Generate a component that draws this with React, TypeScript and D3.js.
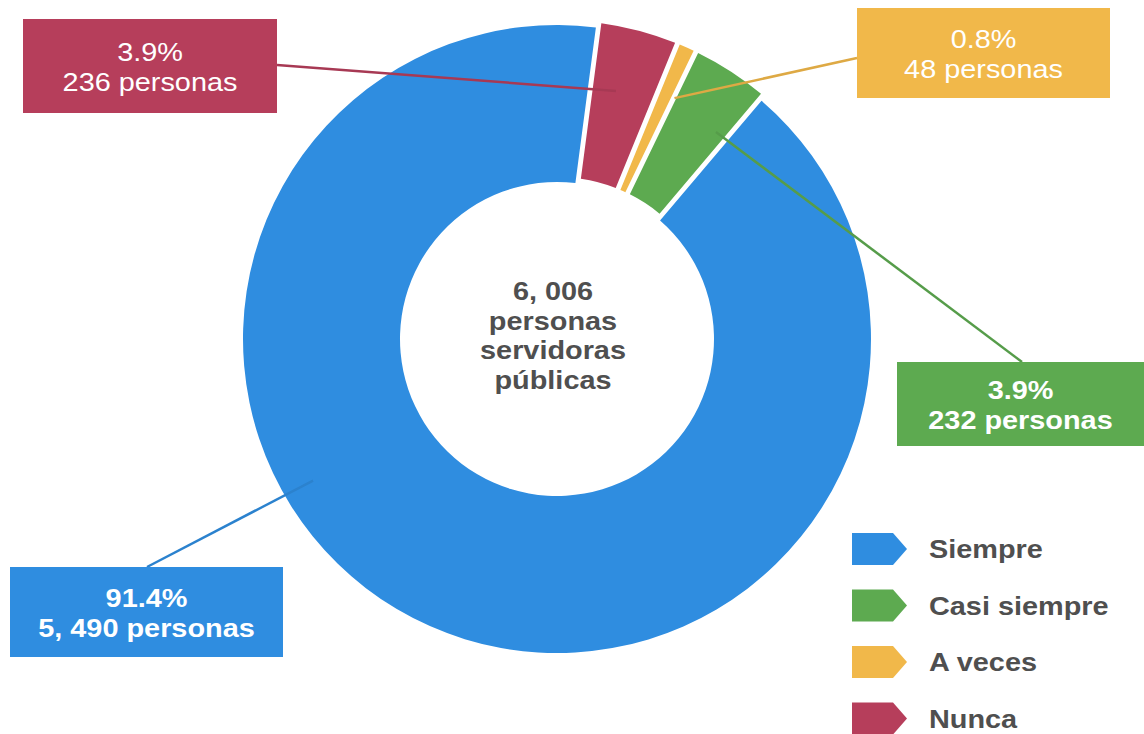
import React from "react";
import * as d3 from "d3";

// ---- Data ----
const categories = ["Nunca", "A veces", "Casi siempre", "Siempre"];
const values = [236, 48, 232, 5490];
const percentLabels = ["3.9%", "0.8%", "3.9%", "91.4%"];
const countLabels = ["236 personas", "48 personas", "232 personas", "5, 490 personas"];
const legendOrder = ["Siempre", "Casi siempre", "A veces", "Nunca"];
const centerLines = ["6, 006", "personas", "servidoras", "públicas"];

// ---- Styles / layout ----
const colors: Record<string, string> = {
  Siempre: "#2F8DE0",
  "Casi siempre": "#5DAA50",
  "A veces": "#F1B84A",
  Nunca: "#B63E5B",
};
const W = 1144;
const H = 734;
const cx = 557;
const cy = 339;
const outerR = 314;
const innerR = 157;
const startDeg = 7.5;
const explode: Record<string, number> = { Nunca: 5, "A veces": 5, "Casi siempre": 5, Siempre: 0 };
const SX = 1.11; // horizontal stretch of the scanned lettering

// label boxes (annotation layout)
const labelLayout: Record<string, { x: number; y: number; w: number; h: number; weight: string; lx: number; ly: number; angOff: number; r: number }> = {
  Nunca: { x: 23, y: 19, w: 254, h: 94, weight: "normal", lx: 277, ly: 65, angOff: -1.5, r: 255 },
  "A veces": { x: 857, y: 8, w: 253, h: 90, weight: "normal", lx: 857, ly: 58, angOff: 2.0, r: 268 },
  "Casi siempre": { x: 897, y: 362, w: 247, h: 84, weight: "bold", lx: 1022, ly: 362, angOff: 4.5, r: 261 },
  Siempre: { x: 10, y: 567, w: 273, h: 90, weight: "bold", lx: 147, ly: 567, angOff: 36, r: 282 },
};

const font = "'Liberation Sans', Arial, Helvetica, sans-serif";

function SText(props: { x: number; y: number; anchor?: string; fill: string; size: number; weight: string; children: any }) {
  return (
    <text
      transform={`translate(${props.x},${props.y}) scale(${SX},1)`}
      textAnchor={props.anchor || "middle"}
      fill={props.fill}
      fontSize={props.size}
      fontWeight={props.weight}
    >
      {props.children}
    </text>
  );
}

export default function App() {
  const data = categories.map((c, i) => ({ cat: c, value: values[i], pct: percentLabels[i], count: countLabels[i] }));
  const start = (startDeg * Math.PI) / 180;
  const pie = d3
    .pie<any>()
    .sort(null)
    .value((d: any) => d.value)
    .startAngle(start)
    .endAngle(start + 2 * Math.PI)
    .padAngle(0.012);
  const arcs = pie(data);
  const arc = d3.arc<any>().innerRadius(innerR).outerRadius(outerR);

  return (
    <svg
      width={W}
      height={H}
      viewBox={`0 0 ${W} ${H}`}
      style={{ position: "absolute", left: 0, top: 0, background: "#fff" }}
      fontFamily={font}
    >
      <rect x={0} y={0} width={W} height={H} fill="#ffffff" />
      <g transform={`translate(${cx},${cy})`}>
        {arcs.map((a) => {
          const mid = (a.startAngle + a.endAngle) / 2;
          const e = explode[a.data.cat];
          const [dx, dy] = d3.pointRadial(mid, e);
          return (
            <path
              key={a.data.cat}
              d={arc(a) || ""}
              fill={colors[a.data.cat]}
              transform={`translate(${dx},${dy})`}
            />
          );
        })}
      </g>

      {/* leader lines */}
      {arcs.map((a) => {
        const L = labelLayout[a.data.cat];
        const mid = (a.startAngle + a.endAngle) / 2 + (L.angOff * Math.PI) / 180;
        const [px, py] = d3.pointRadial(mid, L.r);
        return (
          <line
            key={"l" + a.data.cat}
            x1={L.lx}
            y1={L.ly}
            x2={cx + px}
            y2={cy + py}
            stroke={colors[a.data.cat]}
            strokeWidth={2.5}
            style={{ filter: "brightness(0.92)" }}
          />
        );
      })}

      {/* label boxes */}
      {data.map((d) => {
        const L = labelLayout[d.cat];
        const mx = L.x + L.w / 2;
        const my = L.y + L.h / 2;
        return (
          <g key={"b" + d.cat}>
            <rect x={L.x} y={L.y} width={L.w} height={L.h} fill={colors[d.cat]} />
            <SText x={mx} y={my - 5} fill="#fff" size={26} weight={L.weight}>
              {d.pct}
            </SText>
            <SText x={mx} y={my + 25} fill="#fff" size={26} weight={L.weight}>
              {d.count}
            </SText>
          </g>
        );
      })}

      {/* center text */}
      {centerLines.map((t, i) => (
        <SText key={"c" + i} x={553} y={300 + i * 29.5} fill="#4f4f4f" size={26} weight="bold">
          {t}
        </SText>
      ))}

      {/* legend */}
      {legendOrder.map((c, i) => {
        const y0 = 533 + i * 56.5;
        const x0 = 852;
        const h = 32;
        const shape = `M${x0},${y0} L${x0 + 41},${y0} L${x0 + 55},${y0 + h / 2} L${x0 + 41},${y0 + h} L${x0},${y0 + h} Z`;
        return (
          <g key={"lg" + c}>
            <path d={shape} fill={colors[c]} />
            <SText x={929} y={y0 + h / 2 + 9} anchor="start" fill="#4f4f4f" size={26} weight="bold">
              {c}
            </SText>
          </g>
        );
      })}
    </svg>
  );
}
